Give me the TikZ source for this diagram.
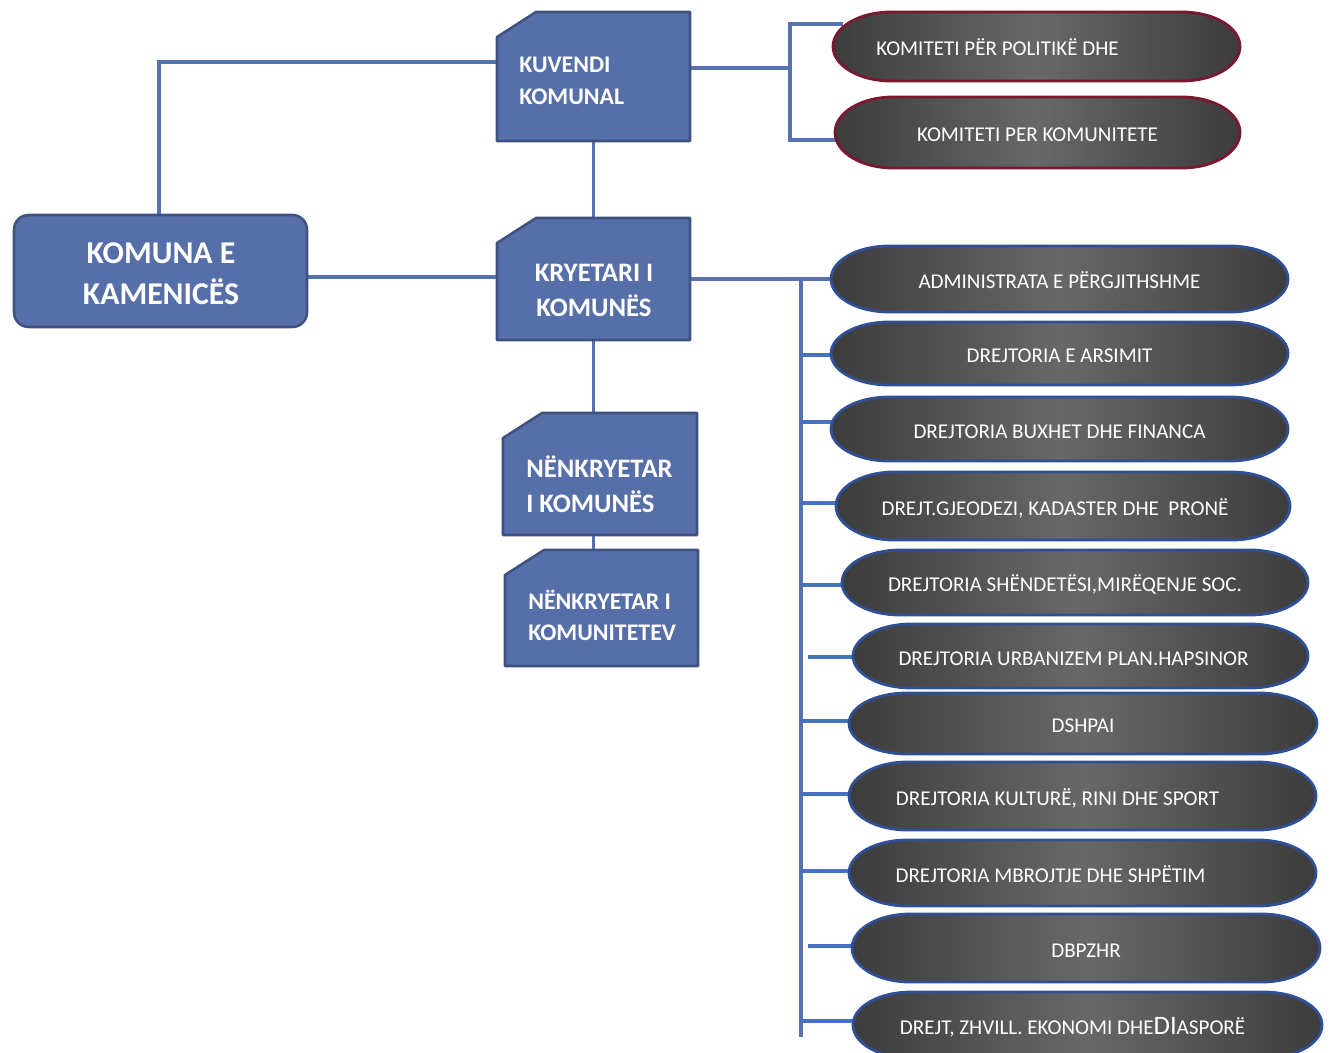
\documentclass[tikz,border=0pt]{standalone}
\usepackage{fontspec}
\setmainfont{Carlito}
\usetikzlibrary{calc}
\pgfdeclarelayer{bg}
\pgfsetlayers{bg,main}
\definecolor{boxfill}{RGB}{87,111,168}
\definecolor{boxline}{RGB}{62,82,130}
\definecolor{conn}{RGB}{88,114,176}
\definecolor{connb}{RGB}{70,114,196}
\definecolor{pillblue}{RGB}{47,80,150}
\definecolor{pillred}{RGB}{122,24,48}
\definecolor{pdark}{RGB}{60,60,60}
\definecolor{plight}{RGB}{104,104,104}
\tikzset{
  boxsty/.style={fill=boxfill, draw=boxline, line width=1.9pt, line join=round},
  holder/.style={inner sep=0pt, outer sep=0pt, rectangle},
  boxtext/.style={text=white, inner sep=0pt},
  pillsty/.style={line width=2.1pt, left color=pdark, right color=pdark, middle color=plight},
  pilltext/.style={text=white, inner sep=0pt, text height=10.2pt, text depth=0pt, font=\fontsize{15.8}{18}\selectfont},
  connsty/.style={draw=conn, line width=2.6pt},
  branch/.style={draw=connb, line width=2.6pt},
}
\newcommand\snipbox[5]{%
  \draw[boxsty] (#2,#3+25) -- (#2+39,#3) -- (#4,#3) -- (#4,#5) -- (#2,#5) -- cycle;
  \node[holder, minimum width={(#4-#2)*0.75pt}, minimum height={(#5-#3)*0.75pt}] (#1) at ({(#2+#4)/2},{(#3+#5)/2}) {};}
\newcommand\pill[8]{%
  \path[pillsty, draw=#6] (#2+58,#3) -- (#4-58,#3)
     arc[start angle=-90, end angle=90, x radius=58, y radius={(#5-#3)/2}]
     -- (#2+58,#5)
     arc[start angle=90, end angle=270, x radius=58, y radius={(#5-#3)/2}] -- cycle;
  \node[holder, minimum width={(#4-#2)*0.75pt}, minimum height={(#5-#3)*0.75pt}] (#1) at ({(#2+#4)/2},{(#3+#5)/2}) {};
  \node[pilltext] (#1t) at ({(#2+#4)/2+#7},{(#3+#5)/2+2.5}) {#8};}
\begin{document}
\begin{tikzpicture}[x=0.75pt, y=-0.75pt]
\useasboundingbox (0,0) rectangle (1330,1052);
% left box
\node[boxsty, rounded corners=11pt, minimum width=219.75pt, minimum height=84pt] (kom) at (160.5,271) {};
\node[boxtext, align=center, font=\fontsize{23.8}{30.75}\selectfont\bfseries] (komt) at (161,274) {KOMUNA E\\KAMENICËS};
% snipped boxes
\snipbox{kuv}{497}{12}{690}{141}
\node[boxtext, anchor=west, align=left, font=\fontsize{17.9}{24}\selectfont\bfseries] (kuvt) at (519,81) {KUVENDI\\KOMUNAL};
\snipbox{kry}{497}{218}{690}{340}
\node[boxtext, align=center, font=\fontsize{20}{26.25}\selectfont\bfseries] (kryt) at (594,290) {KRYETARI I\\KOMUNËS};
\snipbox{nk1}{503}{413}{697}{535}
\node[boxtext, anchor=west, align=left, font=\fontsize{20}{26.25}\selectfont\bfseries] (nk1t) at (526,484) {NËNKRYETAR\\I KOMUNËS};
\snipbox{nk2}{505}{550}{698}{666}
\node[boxtext, anchor=west, align=left, font=\fontsize{17.9}{23.25}\selectfont\bfseries] (nk2t) at (528,615.5) {NËNKRYETAR I\\KOMUNITETEV};
% pills
\pill{kom1}{833}{12}{1240}{81}{pillred}{-39}{KOMITETI PËR POLITIKË DHE}
\pill{kom2}{835}{97}{1240}{168}{pillred}{0}{KOMITETI PER KOMUNITETE}
\pill{adm}{831}{246}{1288}{312}{pillblue}{0}{ADMINISTRATA E PËRGJITHSHME}
\pill{ars}{831}{322}{1288}{385}{pillblue}{0}{DREJTORIA E ARSIMIT}
\pill{bux}{831}{397}{1288}{461}{pillblue}{0}{DREJTORIA BUXHET DHE FINANCA}
\pill{gjeo}{836}{472}{1290}{540}{pillblue}{-8}{DREJT.GJEODEZI, KADASTER DHE~~PRONË}
\pill{shen}{842}{550}{1308}{615}{pillblue}{-10}{DREJTORIA SHËNDETËSI,MIRËQENJE SOC.}
\pill{urb}{853}{624}{1308}{688}{pillblue}{-7}{DREJTORIA URBANIZEM PLAN.HAPSINOR}
\pill{dsh}{849}{693}{1317}{754}{pillblue}{0}{DSHPAI}
\pill{kul}{849}{762}{1316}{830}{pillblue}{-25}{DREJTORIA KULTURË, RINI DHE SPORT}
\pill{mbr}{849}{840}{1316}{906}{pillblue}{-32}{DREJTORIA MBROJTJE DHE SHPËTIM}
\pill{dbp}{852}{914}{1320}{982}{pillblue}{0}{DBPZHR}
\pill{dze}{853}{992}{1322}{1058}{pillblue}{-15}{DREJT, ZHVILL. EKONOMI DHE{\fontsize{20}{20}\selectfont DI}ASPORË}
% connectors
\begin{pgfonlayer}{bg}
  \coordinate (kc) at (159,62);
  \draw[connsty] (kom.north -| kc) -- (kc) -- (kc -| kuv.west);
  \draw[connsty] ([yshift=-4.5pt]kom.east) -- ([yshift=-4.5pt]kom.east -| kry.west);
  \draw[connsty] (kuv.south) -- (kry.north);
  \draw[connsty] (kry.south) -- (kry.south |- nk2.north);
  \coordinate (bt) at (790,24);
  \coordinate (bb) at (790,140);
  \draw[connsty] ([yshift=6.4pt]kuv.east) -- ([yshift=6.4pt]kuv.east -| bt);
  \draw[connsty] ($(kom1.west |- bt)+(10,0)$) -- (bt) -- (bb) -- ($(kom2.west |- bb)+(8,0)$);
  \coordinate (vb) at (801,1037);
  \draw[connsty] (kry.east) -- ($(kry.east -| adm.west)+(6,0)$);
  \draw[connsty] (kry.east -| vb) -- (vb);
  \foreach \n/\y/\x in {ars/355/801, bux/422/801, gjeo/503/801, shen/585/801, urb/657/808, dsh/721/801, kul/794/801, mbr/871/801, dbp/946/808, dze/1021/801}{
    \coordinate (br\n) at (\x,\y);
    \draw[branch] (br\n) -- ($(br\n -| \n.west)+(8,0)$);
  }
\end{pgfonlayer}
\end{tikzpicture}
\end{document}
